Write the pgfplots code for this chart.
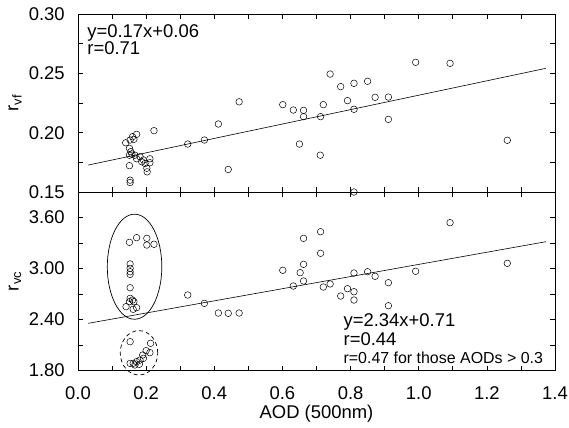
\documentclass[border=0pt]{standalone}
\usepackage{fontspec}
\setmainfont{Liberation Sans}
\usepackage{pgfplots}
\pgfplotsset{compat=1.18}
\begin{document}
\fontsize{18.5}{22}\selectfont
\begin{tikzpicture}
\pgfplotsset{
 every axis/.append style={
   scale only axis, width=477bp, xmin=0, xmax=1.4,
   tick align=inside, major tick length=5bp, minor tick length=5bp,
   axis line style={line width=0.8pt},
   every tick/.style={black, line width=0.6pt},
   xtick={0,0.2,0.4,0.6,0.8,1.0,1.2,1.4}, minor x tick num=1,
   /pgf/number format/assume math mode=true,
   tick label style={font=\fontsize{18.5}{22}\selectfont},
   label style={font=\fontsize{18.5}{22}\selectfont},
   yticklabel style={/pgf/number format/fixed, /pgf/number format/fixed zerofill, /pgf/number format/precision=2, anchor=east, xshift=-7bp},
   xticklabel style={/pgf/number format/fixed, /pgf/number format/fixed zerofill, /pgf/number format/precision=1, anchor=center, yshift=-22.5bp},
   every axis y label/.style={at={(axis description cs:-0.132,0.5)}, anchor=center, rotate=90},
 },
}
\begin{axis}[at={(0,0)}, anchor=north west, height=178bp,
  ymin=0.15, ymax=0.30, ytick={0.15,0.20,0.25,0.30}, minor ytick={0.175,0.225,0.275},
  xticklabels={}, ylabel={r\textsubscript{vf}}]
\addplot[only marks, mark=o, mark size=3.3bp, black, mark options={line width=0.5pt}] table {
x y
0.140 0.1915
0.153 0.1938
0.160 0.1966
0.172 0.1986
0.164 0.1944
0.151 0.1868
0.155 0.1840
0.151 0.1810
0.158 0.1820
0.167 0.1810
0.172 0.1780
0.182 0.1797
0.187 0.1755
0.192 0.1770
0.197 0.1740
0.202 0.1700
0.203 0.1670
0.211 0.1780
0.211 0.1747
0.151 0.1722
0.153 0.1600
0.153 0.1580
0.223 0.2017
0.322 0.1904
0.371 0.1938
0.412 0.2073
0.441 0.1690
0.473 0.2260
0.601 0.2236
0.632 0.2191
0.662 0.2188
0.662 0.2135
0.650 0.1904
0.712 0.2135
0.720 0.2236
0.740 0.2494
0.771 0.2388
0.791 0.2270
0.810 0.2416
0.810 0.2197
0.850 0.2433
0.872 0.2298
0.911 0.2300
0.911 0.2112
0.991 0.2593
1.092 0.2584
1.260 0.1936
0.810 0.1500
0.711 0.1810
};
\addplot[black, line width=0.6pt] coordinates {(0.03,0.1727) (1.373,0.2542)};
\node[anchor=base west, inner sep=0] at (axis cs:0.027,0.2800) {y=0.17x+0.06};
\node[anchor=base west, inner sep=0] at (axis cs:0.027,0.2655) {r=0.71};
\end{axis}
\begin{axis}[at={(0,-178bp)}, anchor=north west, height=178.5bp, clip=false,
  ymin=1.8, ymax=3.9, ytick={1.8,2.4,3.0,3.6}, minor ytick={2.1,2.7,3.3,3.9},
  xlabel={AOD (500nm)}, ylabel={r\textsubscript{vc}},
  xlabel style={at={(axis description cs:0.5,0)}, anchor=center, yshift=-43.5bp}]
\addplot[only marks, mark=o, mark size=3.3bp, black, mark options={line width=0.5pt}] table {
x y
0.151 3.308
0.172 3.363
0.202 3.355
0.202 3.276
0.223 3.285
0.153 3.053
0.153 3.002
0.153 2.962
0.153 2.931
0.153 2.774
0.153 2.649
0.151 2.610
0.160 2.629
0.164 2.610
0.141 2.551
0.172 2.539
0.162 2.520
0.322 2.688
0.371 2.590
0.412 2.476
0.441 2.473
0.473 2.476
0.601 2.979
0.632 2.794
0.652 2.951
0.662 3.355
0.662 3.049
0.662 2.853
0.153 2.139
0.213 2.120
0.211 2.010
0.200 2.033
0.190 1.982
0.192 1.943
0.182 1.923
0.172 1.904
0.162 1.884
0.153 1.884
0.167 1.865
0.180 1.873
0.712 3.433
0.712 3.179
0.720 2.782
0.740 2.818
0.771 2.676
0.791 2.762
0.810 2.947
0.810 2.727
0.810 2.629
0.850 2.962
0.872 2.908
0.911 2.833
0.911 2.562
0.991 2.967
1.092 3.539
1.260 3.061
};
\addplot[black, line width=0.6pt] coordinates {(0.03,2.355) (1.373,3.315)};
\draw[black, line width=0.7pt] (axis cs:0.166,3.021) ellipse [x radius=0.080, y radius=0.618];
\draw[black, line width=0.7pt, dash pattern=on 4bp off 3bp] (axis cs:0.179,2.008) ellipse [x radius=0.055, y radius=0.261];
\node[anchor=base west, inner sep=0] at (axis cs:0.779,2.315) {y=2.34x+0.71};
\node[anchor=base west, inner sep=0] at (axis cs:0.779,2.100) {r=0.44};
\node[anchor=base west, inner sep=0, font=\fontsize{16}{19}\selectfont] at (axis cs:0.779,1.885) {r=0.47 for those AODs > 0.3};
\end{axis}
\pgfresetboundingbox
\path (-78bp,14bp) rectangle (491bp,-414bp);
\end{tikzpicture}
\end{document}
